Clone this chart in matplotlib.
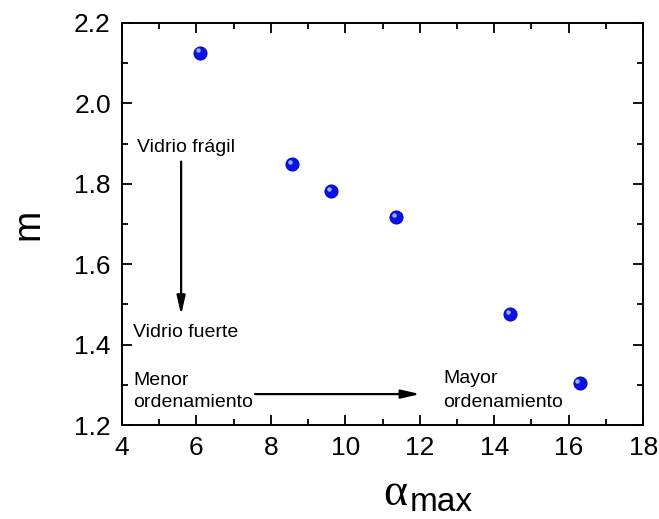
import matplotlib
matplotlib.use("Agg")
import matplotlib.pyplot as plt
import matplotlib.transforms as mtransforms
from matplotlib.ticker import MultipleLocator

plt.rcParams['font.family'] = ['Liberation Sans', 'DejaVu Sans']

# fragility index m versus alpha_max
alpha_max = [6.10, 8.57, 9.62, 11.37, 14.43, 16.29]
m_values = [2.126, 1.849, 1.782, 1.717, 1.475, 1.305]

fig = plt.figure(figsize=(6.59, 5.19), dpi=100)
ax = fig.add_axes([0.185, 0.181, 0.791, 0.775])

# blue balls with a small highlight
ax.plot(alpha_max, m_values, 'o', ms=9.5, color='#0a12e8', mec='#0000b0', mew=0.6, zorder=3)
shine = ax.transData + mtransforms.ScaledTranslation(-1.6 / 72, 1.6 / 72, fig.dpi_scale_trans)
ax.plot(alpha_max, m_values, 'o', ms=3.2, color='#a8c8ff', mew=0, alpha=0.9,
        transform=shine, zorder=4)

ax.set_xlim(4, 18)
ax.set_ylim(1.2, 2.2)
ax.xaxis.set_major_locator(MultipleLocator(2))
ax.xaxis.set_minor_locator(MultipleLocator(1))
ax.yaxis.set_major_locator(MultipleLocator(0.2))
ax.yaxis.set_minor_locator(MultipleLocator(0.1))
ax.yaxis.set_major_formatter(plt.FormatStrFormatter('%.1f'))
ax.tick_params(which='both', direction='in', top=True, right=True, width=1.3,
               labelsize=19, pad=8)
ax.tick_params(which='major', length=7)
ax.tick_params(which='minor', length=4)
for sp in ax.spines.values():
    sp.set_linewidth(1.4)

ax.set_ylabel('m', fontsize=27, labelpad=20)

# x label: serif alpha with a sans "max" subscript
fig.text(0.581, 0.027, 'α', fontsize=33, family='Liberation Serif',
         ha='left', va='baseline')
fig.text(0.622, 0.016, 'max', fontsize=24, ha='left', va='baseline')

arrow_style = dict(arrowstyle='-|>,head_width=0.16,head_length=0.7', color='black',
                   lw=1.6, mutation_scale=16, shrinkA=0, shrinkB=0)

# fragile -> strong glass arrow
ax.annotate('', xy=(5.59, 1.474), xytext=(5.59, 1.855), arrowprops=arrow_style)
ax.text(4.40, 1.879, 'Vidrio frágil', fontsize=14, va='baseline', ha='left')
ax.text(4.30, 1.419, 'Vidrio fuerte', fontsize=14, va='baseline', ha='left')

# ordering arrow
ax.annotate('', xy=(12.01, 1.277), xytext=(7.575, 1.277), arrowprops=arrow_style)
ax.text(4.30, 1.2995, 'Menor', fontsize=14, va='baseline', ha='left')
ax.text(4.30, 1.2448, 'ordenamiento', fontsize=14, va='baseline', ha='left')
ax.text(12.63, 1.3045, 'Mayor', fontsize=14, va='baseline', ha='left')
ax.text(12.63, 1.2448, 'ordenamiento', fontsize=14, va='baseline', ha='left')

fig.savefig('out.png', dpi=100)
